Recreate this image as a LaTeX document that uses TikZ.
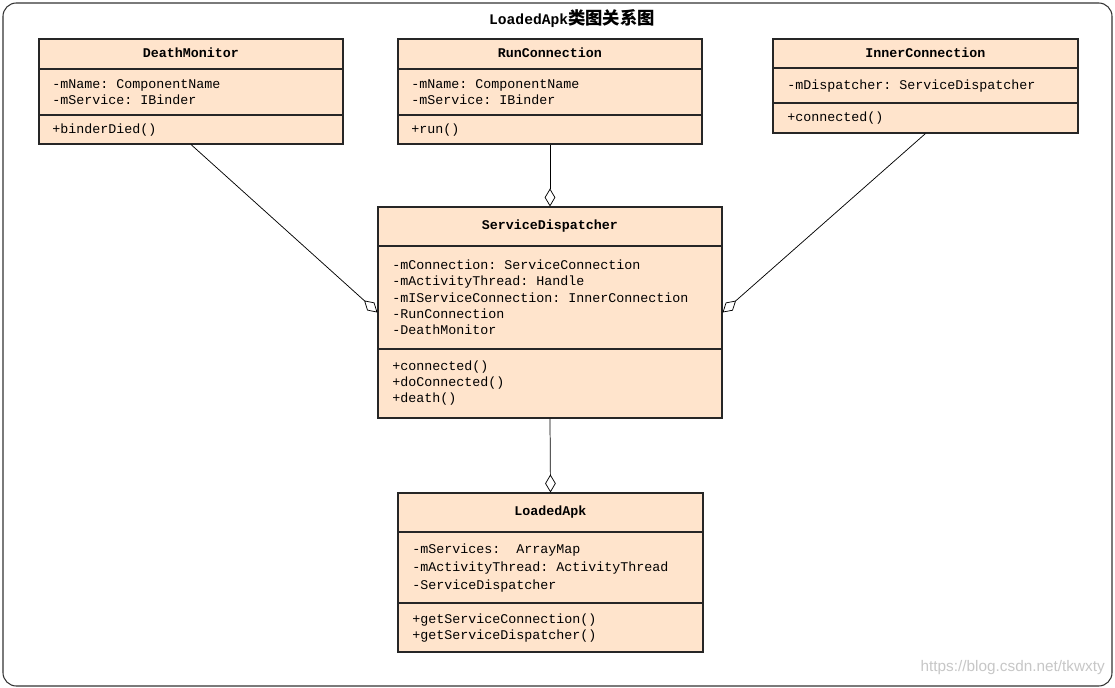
\documentclass[tikz,border=0pt]{standalone}
\usepackage{fontspec}
\setmonofont{Liberation Mono}
\newfontfamily\cjkfont{Noto Sans CJK SC}
\newfontfamily\wmfont{Liberation Sans}
\usetikzlibrary{arrows.meta}
\definecolor{umlfill}{RGB}{255,228,204}
\begin{document}
\begin{tikzpicture}[x=0.75pt,y=-0.75pt,
  cls/.style={draw=black!85, line width=0.8pt, fill=umlfill, inner sep=0pt, rectangle},
  sepline/.style={draw=black!85, line width=0.8pt},
  head/.style={font=\ttfamily\bfseries\fontsize{10}{12}\selectfont, anchor=center, inner sep=0pt},
  item/.style={font=\ttfamily\fontsize{10}{12}\selectfont, anchor=west, inner sep=0pt, align=left},
  agg/.style={draw=black, line width=0.55pt, -{Diamond[fill=white, length=13.5pt, width=8pt]}}]
\useasboundingbox (0,0) rectangle (1115,688);
\fill[white] (0,0) rectangle (1115,688);
% frame
\draw[black!80, line width=0.8pt, rounded corners=10pt] (3,3) rectangle (1112,686);
\node[inner sep=0pt] (title) at (572,19) {\ttfamily\bfseries\fontsize{11}{13}\selectfont LoadedApk\cjkfont\bfseries\fontsize{13}{15}\selectfont 类图关系图};

% DeathMonitor
\node[cls, minimum width=228pt, minimum height=78.75pt] (dm) at (191,91.5) {};
\draw[sepline] (39,69) -- (343,69);
\draw[sepline] (39,115) -- (343,115);
\node[head] (dmh) at (191,53) {DeathMonitor};
\node[item] (dma) at (52,92) {-mName: ComponentName\\-mService: IBinder};
\node[item] (dmm) at (52,130) {+binderDied()};

% RunConnection
\node[cls, minimum width=228pt, minimum height=78.75pt] (rc) at (550,91.5) {};
\draw[sepline] (398,69) -- (702,69);
\draw[sepline] (398,115) -- (702,115);
\node[head] (rch) at (550,53) {RunConnection};
\node[item] (rca) at (411,92) {-mName: ComponentName\\-mService: IBinder};
\node[item] (rcm) at (411,130) {+run()};

% InnerConnection
\node[cls, minimum width=228.75pt, minimum height=70.5pt] (ic) at (925.5,86) {};
\draw[sepline] (773,68) -- (1078,68);
\draw[sepline] (773,103) -- (1078,103);
\node[head] (ich) at (925.5,53) {InnerConnection};
\node[item] (ica) at (787,86) {-mDispatcher: ServiceDispatcher};
\node[item] (icm) at (787,118) {+connected()};

% ServiceDispatcher
\node[cls, minimum width=258pt, minimum height=158.25pt] (sd) at (550,312.5) {};
\draw[sepline] (378,246) -- (722,246);
\draw[sepline] (378,349) -- (722,349);
\node[head] (sdh) at (550,226) {ServiceDispatcher};
\node[item, font=\ttfamily\fontsize{10}{12.2}\selectfont] (sda) at (392,297.5) {-mConnection: ServiceConnection\\-mActivityThread: Handle\\-mIServiceConnection: InnerConnection\\-RunConnection\\-DeathMonitor};
\node[item] (sdm) at (392,383) {+connected()\\+doConnected()\\+death()};

% LoadedApk
\node[cls, minimum width=228.75pt, minimum height=119.25pt] (la) at (550.5,572.5) {};
\draw[sepline] (398,532) -- (703,532);
\draw[sepline] (398,603) -- (703,603);
\node[head] (lah) at (550.5,512) {LoadedApk};
\node[item, font=\ttfamily\fontsize{10}{13.5}\selectfont] (laa) at (412,568) {-mServices:~~ArrayMap\\-mActivityThread: ActivityThread\\-ServiceDispatcher};
\node[item] (lam) at (412,628) {+getServiceConnection()\\+getServiceDispatcher()};

% connectors
\draw[agg] (dm.south) -- (sd.west);
\draw[agg] (rc.south) -- (sd.north);
\draw[agg] (ic.south) -- (sd.east);
\draw[agg] (sd.south) -- (la.north);

% watermark
\node[anchor=east, inner sep=0pt, text=black!22, font=\wmfont\fontsize{11.5}{13}\selectfont] (wm) at (1105,668) {https://blog.csdn.net/tkwxty};
\end{tikzpicture}
\end{document}
